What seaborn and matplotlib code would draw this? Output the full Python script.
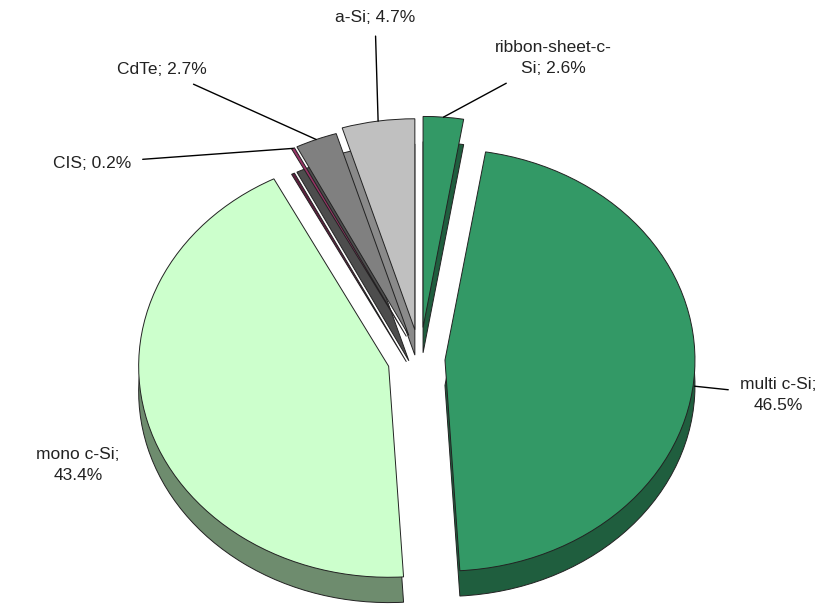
import numpy as np
import matplotlib
matplotlib.use("Agg")
import matplotlib.pyplot as plt
import seaborn as sns

sns.set_theme(style="white")
plt.rcParams['font.family'] = ['Liberation Sans', 'DejaVu Sans']

# data (share of PV technologies, %)
labels = ["ribbon-sheet-c-\nSi", "multi c-Si", "mono c-Si", "CIS", "CdTe", "a-Si"]
shares = [2.6, 46.5, 43.4, 0.2, 2.7, 4.7]

top_colors = ["#339966", "#339966", "#CCFFCC", "#993366", "#808080", "#C0C0C0"]
side_colors = ["#1F5E3E", "#1F5E3E", "#6E8C6E", "#5E1F3E", "#4D4D4D", "#8A8A8A"]
explode = [0.15, 0.10, 0.13, 0.12, 0.12, 0.14]

# text positions of the labels (pixels in the 834x605 picture)
label_pos = [(553, 58), (778, 395), (78, 465), (92, 163), (162, 70), (375, 17)]
label_text = ["{}; {:.1f}%".format(l, s) for l, s in zip(labels, shares)]
label_text[1] = "multi c-Si;\n46.5%"
label_text[2] = "mono c-Si;\n43.4%"

fig = plt.figure(figsize=(8.34, 6.05), dpi=100)
ax = fig.add_axes([0, 0, 1, 1])

# pie centre and radii in pixels, used to map to data units
cx, cy, rx, ry = 420, 359, 250, 211
ax.set_xlim(-cx / rx, (834 - cx) / rx)
ax.set_ylim(-(605 - cy) / ry, cy / ry)
depth = 0.12

wedge_kw = dict(edgecolor="#222222", linewidth=0.7)

# side (thickness) of the pie, drawn first and shifted down
ax.pie(shares, explode=explode, colors=side_colors, startangle=90,
       counterclock=False, center=(0, -depth), wedgeprops=wedge_kw,
       frame=True)
# top face
wedges, _ = ax.pie(shares, explode=explode, colors=top_colors, startangle=90,
                   counterclock=False, center=(0, 0), wedgeprops=wedge_kw,
                   frame=True)
ax.set_aspect("auto")
ax.set_xlim(-cx / rx, (834 - cx) / rx)
ax.set_ylim(-(605 - cy) / ry, cy / ry)
ax.axis("off")

for w, txt, (px, py) in zip(wedges, label_text, label_pos):
    mid = np.deg2rad((w.theta1 + w.theta2) / 2)
    ex, ey = w.center[0] + w.r * np.cos(mid), w.center[1] + w.r * np.sin(mid)
    if txt.startswith("multi"):
        ey -= depth * 0.6
    tx, ty = (px - cx) / rx, (cy - py) / ry
    show_line = not txt.startswith("mono")
    ax.annotate(txt, xy=(ex, ey), xytext=(tx, ty), ha="center", va="center",
                fontsize=12.5, color="#222222", linespacing=1.5,
                arrowprops=dict(arrowstyle="-", color="black", lw=1,
                                shrinkA=6, shrinkB=0) if show_line else None)

fig.savefig("out.png", dpi=100, facecolor="white")
